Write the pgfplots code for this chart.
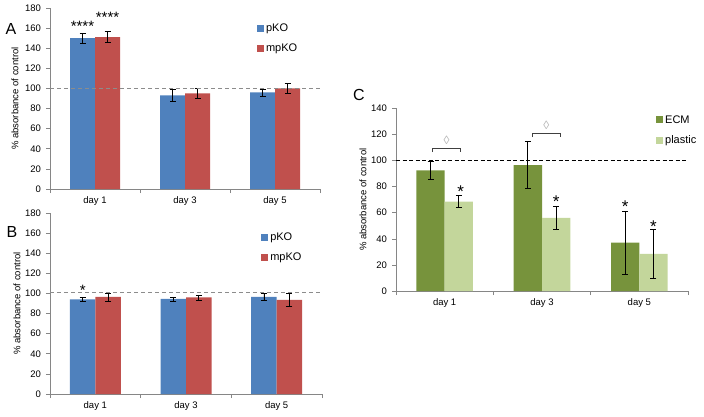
\documentclass[border=0pt]{standalone}
\usepackage{pgfplots}
\pgfplotsset{compat=1.18}
\usepackage{fontspec}
\setmainfont{Liberation Sans}
\definecolor{pko}{HTML}{4F81BD}
\definecolor{mpko}{HTML}{C0504D}
\definecolor{ecm}{HTML}{77933C}
\definecolor{plastic}{HTML}{C3D69B}
\definecolor{axgray}{HTML}{868686}
\pgfplotsset{
  excel/.style={
    scale only axis,
    ybar=0pt,
    axis lines*=left,
    axis line style={axgray},
    tick style={axgray, line width=0.6pt},
    tick align=outside,
    major tick length=4pt,
    xmin=-0.5, xmax=2.5, ymin=0,
    xtick={-0.5,0.5,1.5,2.5},
    xticklabels={},
    extra x ticks={0,1,2},
    extra x tick labels={day 1,day 3,day 5},
    extra x tick style={major tick length=0pt, tick label style={yshift=-4pt}},
    tick label style={font=\fontsize{9.5}{11}\selectfont},
    yticklabel style={xshift=-1.5pt},
    /pgf/number format/assume math mode=true,
    ylabel={\% absorbance of control},
    ylabel style={font=\fontsize{9.5}{11}\selectfont, anchor=center},
    legend style={draw=none, fill=none, font=\fontsize{11}{13}\selectfont, row sep=7pt, anchor=west},
    legend cell align=left,
    legend image code/.code={\fill[#1, draw=none] (0pt,-3.5pt) rectangle (7pt,3.5pt);},
    error bars/error bar style={black, line width=0.8pt},
    error bars/error mark options={black, line width=0.8pt, mark size=3pt, rotate=90},
  },
}
\begin{document}
\begin{tikzpicture}
\useasboundingbox (0pt,0pt) rectangle (704pt,-416pt);
% panel A
\begin{axis}[excel, at={(50pt,-189pt)}, anchor=south west, width=270pt, height=181pt,
  ymax=180, ytick={0,20,...,180}, bar width=25pt,
  ylabel style={at={(axis description cs:-0.13,0.5)}},
  legend style={at={(axis description cs:0.755,0.83)}}]
\addplot[fill=pko, draw=none, error bars/.cd, y dir=both, y explicit]
  coordinates {(0,150) +- (0,5) (1,93) +- (0,6) (2,96) +- (0,3.5)};
\addplot[fill=mpko, draw=none, error bars/.cd, y dir=both, y explicit]
  coordinates {(0,151) +- (0,5.5) (1,95) +- (0,5) (2,100) +- (0,5)};
\legend{pKO, mpKO}
\draw[black!45, dashed, dash pattern=on 4pt off 3pt] (axis cs:-0.5,100) -- (axis cs:2.5,100);
\node[font=\fontsize{15}{15}\selectfont] at (axis cs:-0.139,162) {****};
\node[font=\fontsize{15}{15}\selectfont] at (axis cs:0.139,171) {****};
\end{axis}
\node[font=\fontsize{16}{16}\selectfont] at (11pt,-29pt) {A};
% panel B
\begin{axis}[excel, at={(50pt,-394pt)}, anchor=south west, width=272pt, height=181pt,
  ymax=180, ytick={0,20,...,180}, bar width=25.5pt,
  ylabel style={at={(axis description cs:-0.121,0.5)}},
  legend style={at={(axis description cs:0.765,0.81)}}]
\addplot[fill=pko, draw=none, error bars/.cd, y dir=both, y explicit]
  coordinates {(0,94) +- (0,2) (1,94.5) +- (0,2) (2,96.5) +- (0,3.5)};
\addplot[fill=mpko, draw=none, error bars/.cd, y dir=both, y explicit]
  coordinates {(0,96.5) +- (0,4) (1,96) +- (0,2.5) (2,93.5) +- (0,6.5)};
\legend{pKO, mpKO}
\draw[black!45, dashed, dash pattern=on 4pt off 3pt] (axis cs:-0.5,101) -- (axis cs:2.5,101);
\node[font=\fontsize{15}{15}\selectfont] at (axis cs:-0.139,103.5) {*};
\end{axis}
\node[font=\fontsize{16}{16}\selectfont] at (12pt,-232pt) {B};
% panel C
\begin{axis}[excel, at={(396pt,-291pt)}, anchor=south west, width=292pt, height=182.7pt,
  ymax=140, ytick={0,20,...,140}, bar width=28.3pt,
  ylabel style={at={(axis description cs:-0.113,0.5)}},
  legend style={at={(axis description cs:0.88,0.88)}}]
\addplot[fill=ecm, draw=none, error bars/.cd, y dir=both, y explicit]
  coordinates {(0,92.5) +- (0,7) (1,96.5) +- (0,18) (2,37) +- (0,24)};
\addplot[fill=plastic, draw=none, error bars/.cd, y dir=both, y explicit]
  coordinates {(0,68.5) +- (0,4.5) (1,56) +- (0,8.5) (2,28.5) +- (0,18.5)};
\legend{ECM, plastic}
\draw[black, line width=1.2pt, dash pattern=on 4pt off 2.5pt] (axis cs:-0.5,100) -- (axis cs:2.5,100);
\draw[black!75, line width=0.9pt] (axis cs:-0.13,106.5) -- (axis cs:-0.13,109.5) -- (axis cs:0.165,109.5) -- (axis cs:0.165,106.5);
\draw[black!75, line width=0.9pt] (axis cs:0.9,118) -- (axis cs:0.9,121) -- (axis cs:1.19,121) -- (axis cs:1.19,118);
\node[black!30, font=\fontsize{12}{12}\selectfont] at (axis cs:0.02,115.5) {◊};
\node[black!30, font=\fontsize{12}{12}\selectfont] at (axis cs:1.045,127) {◊};
\node[font=\fontsize{17}{17}\selectfont] at (axis cs:0.165,76.5) {*};
\node[font=\fontsize{17}{17}\selectfont] at (axis cs:1.145,68.5) {*};
\node[font=\fontsize{17}{17}\selectfont] at (axis cs:1.855,64.5) {*};
\node[font=\fontsize{17}{17}\selectfont] at (axis cs:2.145,49.5) {*};
\end{axis}
\node[font=\fontsize{16}{16}\selectfont] at (359pt,-95pt) {C};
\end{tikzpicture}
\end{document}
